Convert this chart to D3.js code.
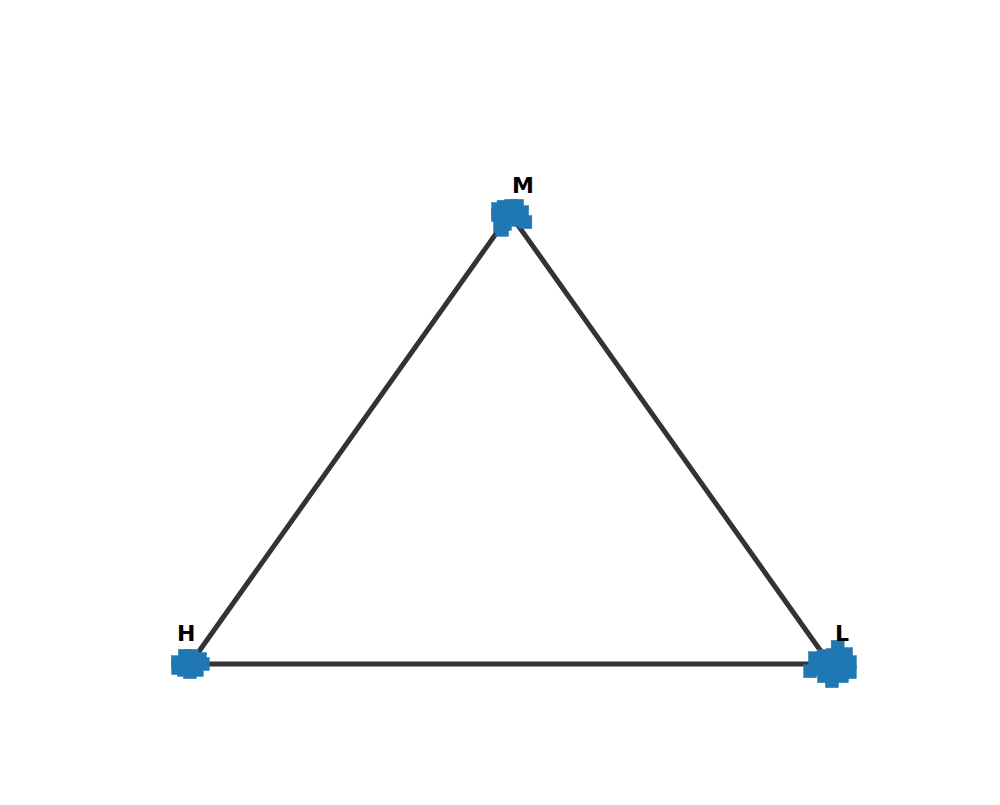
<!DOCTYPE html>
<html>
<head>
<meta charset="utf-8">
<script src="https://cdn.jsdelivr.net/npm/d3@7"></script>
<style>
html,body{margin:0;padding:0;background:#fff;}
svg{display:block;}
</style>
</head>
<body>
<svg id="chart" width="1000" height="805"></svg>
<script>
// Ternary compositions (H, M, L) for each point
const pointsH = [0.013,0.002,-0.011,-0.020,-0.021,-0.015,-0.006,0.002,0.029,0.019,-0.009,0.020,0.030,
                 1.017,1.023,0.999,0.988,0.979,0.980,0.996,1.009,1.016,1.000,0.990,1.014,
                 -0.031,0.017,0.001,-0.015,-0.036,-0.033,-0.022,-0.005,0.016,0.023,0.039,0.023,0.000,-0.016,0.004,-0.003];
const pointsM = [1.011,1.016,1.018,1.018,1.004,0.982,0.987,0.996,0.973,0.978,1.004,0.998,0.965,
                 0.004,-0.009,0.018,0.018,0.011,0.000,-0.013,-0.018,-0.013,0.000,0.002,0.000,
                 0.038,0.013,0.018,0.020,0.022,0.004,-0.018,-0.027,-0.038,-0.027,-0.016,-0.009,0.000,0.000,0.004,-0.013];
const pointsL = [-0.024,-0.018,-0.007,0.002,0.017,0.033,0.019,0.002,-0.002,0.003,0.005,-0.018,0.005,
                 -0.021,-0.014,-0.017,-0.006,0.010,0.020,0.017,0.009,-0.003,0.000,0.008,-0.014,
                 0.993,0.970,0.981,0.995,1.014,1.029,1.040,1.032,1.022,1.004,0.977,0.986,1.000,1.016,0.992,1.017];
const vertexLabels = ["H", "M", "L"];

const svg = d3.select("#chart");
const SQ3 = Math.sqrt(3) / 2;
const x = d3.scaleLinear().domain([0, 1]).range([190, 830]);
const y = d3.scaleLinear().domain([0, SQ3]).range([664, 214]);

function toXY(h, m, l) {
  const s = h + m + l;
  const mm = m / s, ll = l / s;
  return [x(ll + mm / 2), y(mm * SQ3)];
}

// triangle frame
const corners = [[1,0,0],[0,1,0],[0,0,1]].map(c => toXY(...c));
svg.append("path")
  .attr("d", d3.line()(corners) + "Z")
  .attr("fill", "none")
  .attr("stroke", "#333333")
  .attr("stroke-width", 5)
  .attr("stroke-linejoin", "miter");

// points
const data = pointsH.map((h, i) => toXY(h, pointsM[i], pointsL[i]));
const size = 13;
svg.append("g").selectAll("rect")
  .data(data)
  .join("rect")
  .attr("x", d => d[0] - size / 2)
  .attr("y", d => d[1] - size / 2)
  .attr("width", size)
  .attr("height", size)
  .attr("fill", "#1f77b4")
  .attr("stroke", "#1f77b4")
  .attr("stroke-width", 0.5);

// vertex labels
const labelOffsets = [[-13, -23], [2, -21], [5, -23]];
svg.append("g").selectAll("text")
  .data(vertexLabels)
  .join("text")
  .attr("x", (d, i) => corners[i][0] + labelOffsets[i][0])
  .attr("y", (d, i) => corners[i][1] + labelOffsets[i][1])
  .attr("font-family", "DejaVu Sans")
  .attr("font-weight", "bold")
  .attr("font-size", 22)
  .attr("fill", "#000")
  .text(d => d);
</script>
</body>
</html>
